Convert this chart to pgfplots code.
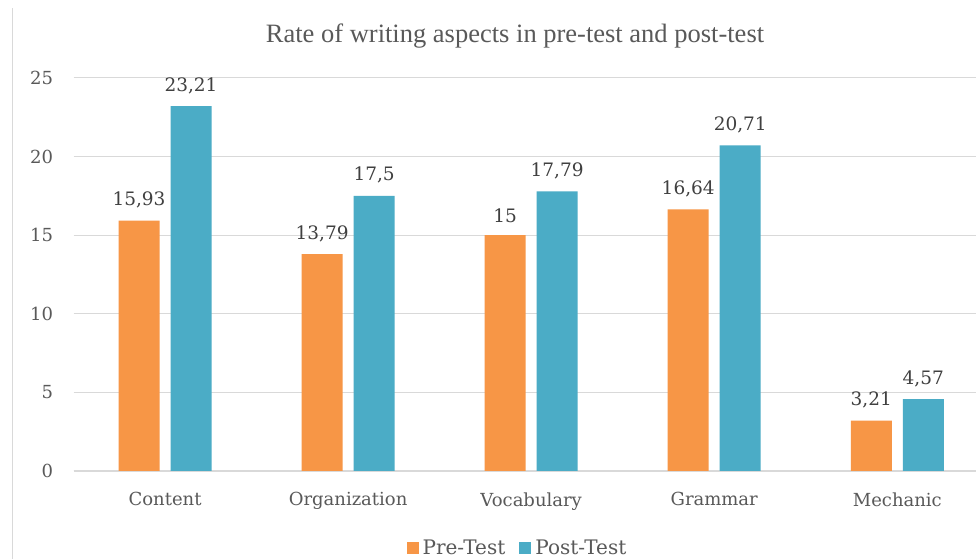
\documentclass[border=0pt]{standalone}
\usepackage{fontspec}
\setmainfont{DejaVu Serif}
\newfontfamily\titlefont{Liberation Serif}
\usepackage{pgfplots}
\pgfplotsset{compat=1.18}
\definecolor{preC}{HTML}{F79646}
\definecolor{postC}{HTML}{4BACC6}
\definecolor{txt}{HTML}{595959}
\definecolor{lbl}{HTML}{404040}
\definecolor{grd}{HTML}{D9D9D9}
\begin{document}
\begin{tikzpicture}[x=1pt,y=1pt]
\useasboundingbox (0,0) rectangle (976,559);
\fill[white] (0,0) rectangle (976,559);
\draw[grd, line width=1pt] (12,0) -- (12,551);
\node[txt, font=\titlefont\fontsize{26.5}{28}\selectfont] at (515,523) {Rate of writing aspects in pre-test and post-test};
\begin{axis}[
  at={(73.5pt,88pt)}, anchor=south west,
  scale only axis, width=902.5pt, height=393pt,
  ybar=11pt, bar width=41pt,
  xmin=-0.5, xmax=4.43, ymin=0, ymax=25,
  xtick={0,1,2,3,4},
  xticklabels={Content,Organization,Vocabulary,Grammar,Mechanic},
  ytick={0,5,10,15,20,25},
  axis x line*=bottom, axis y line*=left,
  x axis line style={grd, line width=1.2pt, -},
  y axis line style={draw=none},
  ymajorgrids, grid style={grd, line width=1pt},
  major tick length=0pt,
  tick label style={txt, font=\fontsize{18}{20}\selectfont},
  yticklabel style={xshift=-17pt},
  xticklabel style={yshift=-18pt},
  /pgf/number format/assume math mode=true,
  /pgf/number format/use comma,
  nodes near coords,
  every node near coord/.append style={lbl, font=\fontsize{18.5}{20}\selectfont, yshift=9pt},
  clip=false,
  legend style={at={(0.493,-0.196)}, anchor=center, draw=none, fill=none,
    legend columns=2, font=\fontsize{20}{22}\selectfont, text=txt,
    nodes={inner xsep=4pt},
    /tikz/every even column/.append style={column sep=10pt}},
  legend image code/.code={\fill[#1] (0pt,-6pt) rectangle (12pt,6pt);},
]
\addplot[fill=preC, draw=none] coordinates {(0,15.93) (1,13.79) (2,15) (3,16.64) (4,3.21)};
\addplot[fill=postC, draw=none] coordinates {(0,23.21) (1,17.5) (2,17.79) (3,20.71) (4,4.57)};
\legend{Pre-Test,Post-Test}
\end{axis}
\end{tikzpicture}
\end{document}
